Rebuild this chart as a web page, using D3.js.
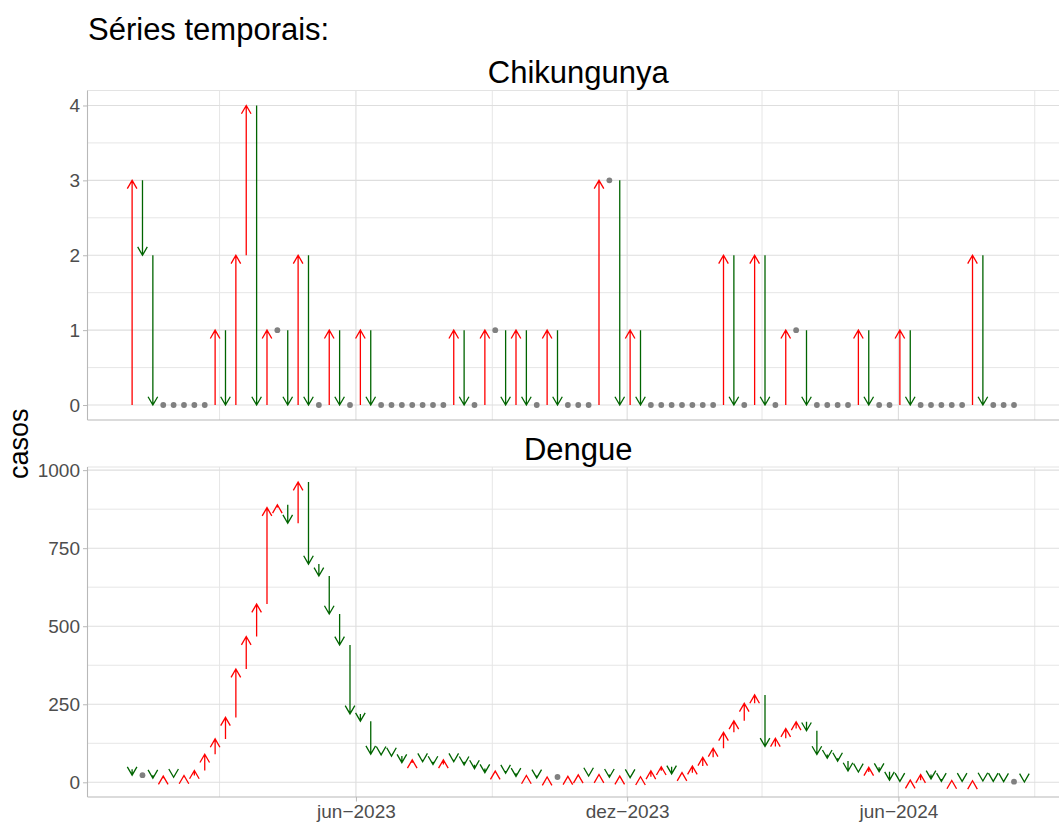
<!DOCTYPE html>
<html>
<head>
<meta charset="utf-8">
<script src="https://cdn.jsdelivr.net/npm/d3@7"></script>
<style>
body { margin: 0; background: #fff; }
svg { display: block; font-family: "Liberation Sans", Arial, Helvetica, sans-serif; }
</style>
</head>
<body>
<div id="chart"></div>
<script>
// semanas epidemiológicas a partir de 2023-01-01
var firstWeek = "2023-01-01";

var chikStart = 0;
var chikCases = [3, 2, 0, 0, 0, 0, 0, 0, 1, 0, 2, 4, 0, 1, 1, 0, 2, 0, 0, 1,
  0, 0, 1, 0, 0, 0, 0, 0, 0, 0, 0, 1, 0, 0, 1, 1, 0, 1, 0, 0,
  1, 0, 0, 0, 0, 3, 3, 0, 1, 0, 0, 0, 0, 0, 0, 0, 0, 2, 0, 0,
  2, 0, 0, 1, 1, 0, 0, 0, 0, 0, 1, 0, 0, 0, 1, 0, 0, 0, 0, 0,
  0, 2, 0, 0, 0, 0];

var dengueStart = 42;
var dengueCases = [23, 23, 13, 20, 16, 22, 38, 90, 139, 208, 363, 467, 571, 880, 889, 830, 962, 699, 661, 539,
  440, 219, 196, 90, 88, 84, 63, 72, 66, 57, 72, 66, 56, 44, 31, 36, 29, 19, 22, 14,
  17, 17, 19, 24, 20, 25, 16, 20, 15, 18, 37, 50, 27, 31, 52, 80, 109, 160, 197, 253,
  280, 115, 141, 172, 194, 165, 89, 77, 68, 36, 33, 48, 34, 7, 3, 7, 25, 11, 3, 6,
  3, 5, 4, 3, 2, 2, 1];

var chikTicks = [0, 1, 2, 3, 4];
var dengueTicks = [0, 250, 500, 750, 1000];
var xTicks = ["2023-06-01", "2023-12-01", "2024-06-01"];
var xMinor = ["2023-03-01", "2023-09-01", "2024-03-01", "2024-09-01"];
var meses = ["jan", "fev", "mar", "abr", "mai", "jun", "jul", "ago", "set", "out", "nov", "dez"];

var width = 1059,
  height = 822,
  left = 87.5,
  right = 1069; // o painel passa da borda direita, como no original

var colUp = "#FF0000", colDown = "#006400", colSame = "#808080";

var parse = d3.utcParse("%Y-%m-%d");
var t0 = parse(firstWeek);
function weekDate(i) { return d3.utcDay.offset(t0, 7 * i); }

var panels = [
  { name: "Chikungunya", start: chikStart, cases: chikCases, ticks: chikTicks, top: 90.5, bottom: 420, stripY: 83, xLabels: false },
  { name: "Dengue", start: dengueStart, cases: dengueCases, ticks: dengueTicks, top: 467, bottom: 797, stripY: 460, xLabels: true }
];

var nWeeks = d3.max(panels, function(p) { return p.cases.length; });
var dMin = weekDate(0), dMax = weekDate(nWeeks - 1);
var pad = (dMax - dMin) * 0.05;
var x = d3.scaleUtc()
  .domain([new Date(+dMin - pad), new Date(+dMax + pad)])
  .range([left, right]);

var svg = d3.select("#chart")
  .append("svg")
  .attr("width", width)
  .attr("height", height);

svg.append("text")
  .attr("x", 88)
  .attr("y", 40)
  .style("font-size", "31px")
  .attr("fill", "#000")
  .text("Séries temporais:");

svg.append("text")
  .attr("transform", "translate(28," + ((90.5 + 797) / 2) + ") rotate(-90)")
  .attr("text-anchor", "middle")
  .style("font-size", "27px")
  .attr("fill", "#000")
  .text("casos");

function arrowPath(px, y1, y2) {
  var L = 9.6, a = Math.PI / 6;
  var dir = y2 < y1 ? 1 : -1;
  var hx = L * Math.sin(a), hy = L * Math.cos(a) * dir;
  return "M" + px + "," + y1 + "L" + px + "," + y2 +
    "M" + (px - hx) + "," + (y2 + hy) + "L" + px + "," + y2 + "L" + (px + hx) + "," + (y2 + hy);
}

panels.forEach(function(p) {
  var vals = [p.start].concat(p.cases);
  var ext = d3.extent(vals);
  var yp = (ext[1] - ext[0]) * 0.05;
  var y = d3.scaleLinear()
    .domain([ext[0] - yp, ext[1] + yp])
    .range([p.bottom, p.top]);

  var g = svg.append("g");

  // grade
  var yMinor = d3.pairs(p.ticks).map(function(d) { return (d[0] + d[1]) / 2; });
  g.selectAll(".ymin").data(yMinor).enter().append("line")
    .attr("x1", left).attr("x2", right)
    .attr("y1", y).attr("y2", y)
    .attr("stroke", "#E6E6E6").attr("stroke-width", 1);
  g.selectAll(".xmin").data(xMinor).enter().append("line")
    .attr("x1", function(d) { return x(parse(d)); })
    .attr("x2", function(d) { return x(parse(d)); })
    .attr("y1", p.top).attr("y2", p.bottom)
    .attr("stroke", "#E6E6E6").attr("stroke-width", 1);
  g.selectAll(".ymaj").data(p.ticks).enter().append("line")
    .attr("x1", left).attr("x2", right)
    .attr("y1", y).attr("y2", y)
    .attr("stroke", "#DEDEDE").attr("stroke-width", 1.1);
  g.selectAll(".xmaj").data(xTicks).enter().append("line")
    .attr("x1", function(d) { return x(parse(d)); })
    .attr("x2", function(d) { return x(parse(d)); })
    .attr("y1", p.top).attr("y2", p.bottom)
    .attr("stroke", "#DEDEDE").attr("stroke-width", 1.1);
  g.append("line")
    .attr("x1", left).attr("x2", right)
    .attr("y1", p.top).attr("y2", p.top)
    .attr("stroke", "#E3E3E3").attr("stroke-width", 1);

  // título do painel
  svg.append("text")
    .attr("x", (left + right) / 2)
    .attr("y", p.stripY)
    .attr("text-anchor", "middle")
    .style("font-size", "31px")
    .attr("fill", "#000")
    .text(p.name);

  // eixos
  var yAxis = d3.axisLeft(y).tickValues(p.ticks).tickFormat(d3.format("d"))
    .tickSize(4.5).tickSizeOuter(0).tickPadding(3);
  var ya = svg.append("g").attr("transform", "translate(" + left + ",0)").call(yAxis);
  ya.select(".domain").remove();
  ya.selectAll(".tick line").attr("stroke", "#B8B8B8");
  ya.selectAll(".tick text").style("font-size", "19px").attr("fill", "#4D4D4D")
    .style("font-family", "'Liberation Sans', Arial, sans-serif");
  svg.append("line")
    .attr("x1", left).attr("x2", left)
    .attr("y1", p.top).attr("y2", p.bottom)
    .attr("stroke", "#B8B8B8").attr("stroke-width", 1.1);

  var xAxis = d3.axisBottom(x)
    .tickValues(xTicks.map(parse))
    .tickSize(p.xLabels ? 4.5 : 0)
    .tickSizeOuter(0)
    .tickPadding(3)
    .tickFormat(function(d) { return p.xLabels ? meses[d.getUTCMonth()] + "\u2212" + d.getUTCFullYear() : ""; });
  var xa = svg.append("g").attr("transform", "translate(0," + p.bottom + ")").call(xAxis);
  xa.select(".domain").remove();
  xa.selectAll(".tick line").attr("stroke", "#B8B8B8");
  xa.selectAll(".tick text").style("font-size", "19px").attr("fill", "#4D4D4D")
    .style("font-family", "'Liberation Sans', Arial, sans-serif");
  svg.append("line")
    .attr("x1", left).attr("x2", right)
    .attr("y1", p.bottom).attr("y2", p.bottom)
    .attr("stroke", "#B8B8B8").attr("stroke-width", 1.1);

  // setas semana a semana
  var steps = p.cases.map(function(v, i) {
    return { date: weekDate(i), from: i === 0 ? p.start : p.cases[i - 1], to: v };
  });

  g.selectAll(".seta")
    .data(steps.filter(function(d) { return d.to !== d.from; }))
    .enter().append("path")
    .attr("d", function(d) { return arrowPath(x(d.date), y(d.from), y(d.to)); })
    .attr("fill", "none")
    .attr("stroke", function(d) { return d.to > d.from ? colUp : colDown; })
    .attr("stroke-width", 1.3)
    .attr("stroke-linejoin", "miter");

  g.selectAll(".igual")
    .data(steps.filter(function(d) { return d.to === d.from; }))
    .enter().append("circle")
    .attr("cx", function(d) { return x(d.date); })
    .attr("cy", function(d) { return y(d.to); })
    .attr("r", 2.9)
    .attr("fill", colSame);
});
</script>
</body>
</html>
